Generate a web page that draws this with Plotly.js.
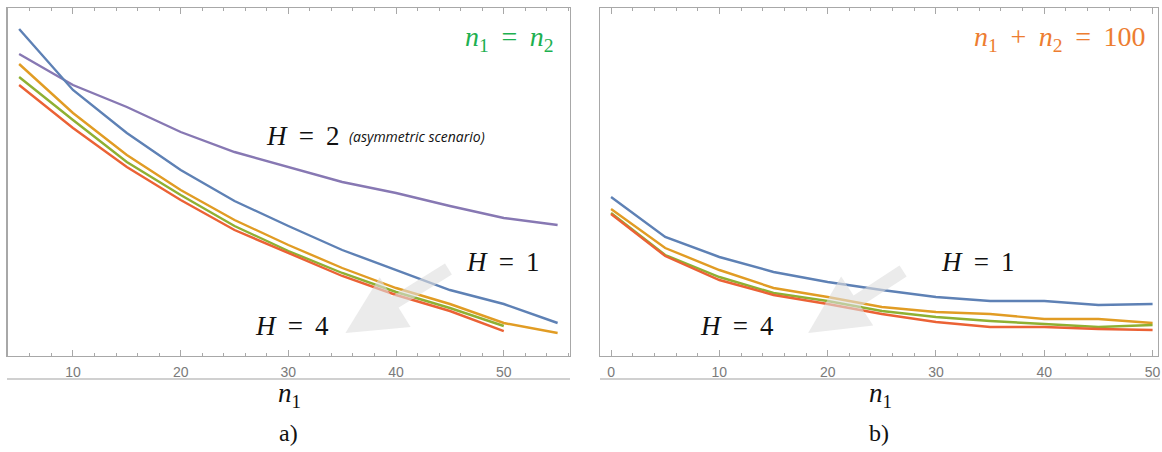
<!DOCTYPE html>
<html>
<head>
<meta charset="utf-8">
<script src="https://cdn.plot.ly/plotly-3.0.1.min.js"></script>
<style>html,body{margin:0;padding:0;background:#fff;}#chart{width:1162px;height:452px;}</style>
</head>
<body>
<div id="chart"></div>
<script>
// ---- data (y in arbitrary units, no y labels) ----
const nLeft = [5, 10, 15, 20, 25, 30, 35, 40, 45, 50, 55];
const nLeftShort = [5, 10, 15, 20, 25, 30, 35, 40, 45, 50];
const leftH1 = [327, 266, 223, 186, 155, 130, 106, 86, 66, 52, 33];
const leftH2 = [292, 243, 201, 166, 136, 111, 88, 68, 52, 33, 23];
const leftH3 = [279, 236, 194, 161, 130, 105, 83, 64, 48, 30];
const leftH4 = [271, 228, 189, 156, 126, 103, 80, 61, 45, 25];
const leftAsym = [302, 271, 249, 224, 204, 189, 174, 163, 150, 138, 131];

const nRight = [0, 5, 10, 15, 20, 25, 30, 35, 40, 45, 50];
const rightH1 = [159, 119, 99, 84, 74, 66, 59, 55, 55, 51, 52];
const rightH2 = [147, 108, 86, 68, 59, 49, 44, 42, 37, 37, 33];
const rightH3 = [143, 101, 79, 63, 55, 45, 39, 35, 32, 29, 31];
const rightH4 = [142, 100, 76, 61, 52, 42, 34, 29, 29, 27, 26];

const leftTicks = [10, 20, 30, 40, 50];
const rightTicks = [0, 10, 20, 30, 40, 50];

// ---- styles ----
const C = {blue:'#5E81B5', orange:'#E19C24', green:'#8FB032', red:'#EB6235', purple:'#8778B3'};
const LW = 2.4;
function tr(x, y, color, xa, ya) {
  return {x:x, y:y, type:'scatter', mode:'lines', line:{color:color, width:LW}, xaxis:xa, yaxis:ya, hoverinfo:'skip', showlegend:false};
}
const data = [
  tr(nLeft, leftAsym, C.purple, 'x', 'y'),
  tr(nLeft, leftH1, C.blue, 'x', 'y'),
  tr(nLeft, leftH2, C.orange, 'x', 'y'),
  tr(nLeftShort, leftH3, C.green, 'x', 'y'),
  tr(nLeftShort, leftH4, C.red, 'x', 'y'),
  tr(nRight, rightH1, C.blue, 'x2', 'y2'),
  tr(nRight, rightH2, C.orange, 'x2', 'y2'),
  tr(nRight, rightH3, C.green, 'x2', 'y2'),
  tr(nRight, rightH4, C.red, 'x2', 'y2')
];

const frame = '#a8a8a8';
function xax(domain, range, ticks) {
  return {domain:domain, range:range, tickmode:'array', tickvals:ticks, ticktext:ticks.map(String),
    ticks:'inside', ticklen:6, tickwidth:1, tickcolor:frame,
    showline:true, linecolor:frame, linewidth:1.3, mirror:'ticks',
    showgrid:false, zeroline:false, ticklabelstandoff:3,
    tickfont:{family:'Liberation Sans, Arial, sans-serif', size:14, color:'#7a7a7a'},
    minor:{tickmode:'linear', tick0:0, dtick:2, ticks:'inside', ticklen:3, tickcolor:frame, showgrid:false},
    fixedrange:true};
}
function yax(domain, anchor) {
  return {domain:domain, range:[0, 348], anchor:anchor, showticklabels:false, ticks:'',
    showline:true, linecolor:frame, linewidth:1.3, mirror:true, showgrid:false, zeroline:false, fixedrange:true};
}
const ydom = [0.2124, 0.9823];

const serif = 'Liberation Serif, DejaVu Serif, serif';
const bigH = {family:serif, size:27, color:'#111'};
const TS = '\u2009';
function txt(x, y, text, font, xanchor) {
  return {xref:'paper', yref:'paper', x:x/1162, y:1 - y/452, text:text, showarrow:false,
    font:font, xanchor:xanchor || 'center', yanchor:'middle'};
}
function arrow(xref, yref, tx, ty, ax, ay) {
  return {xref:xref, yref:yref, x:tx, y:ty, axref:xref, ayref:yref, ax:ax, ay:ay, text:'',
    showarrow:true, arrowhead:2, arrowsize:0.9, arrowwidth:13, arrowcolor:'rgba(222,222,222,0.6)', standoff:0, startstandoff:0};
}
const H = (v) => '<i>H</i>' + TS + ' = ' + TS + v;

const annotations = [
  arrow('x', 'y', 35.3, 23, 45.0, 88),
  arrow('x2', 'y2', 18.2, 23, 27.1, 86),
  txt(556, 38, '<i>n</i><sub>1</sub>' + TS + ' = ' + TS + '<i>n</i><sub>2</sub>', {family:serif, size:28, color:'#1DB050'}, 'right'),
  txt(1148, 38, '<i>n</i><sub>1</sub>' + TS + ' + ' + TS + '<i>n</i><sub>2</sub>' + TS + ' = ' + TS + '100', {family:serif, size:28, color:'#ED7D31'}, 'right'),
  txt(264, 136, H(2), bigH, 'left'),
  txt(347, 136, '<i>(asymmetric scenario)</i>', {family:'Open Sans, Liberation Sans, sans-serif', size:14, color:'#111'}, 'left'),
  txt(464, 262, H(1), bigH, 'left'),
  txt(253, 326, H(4), bigH, 'left'),
  txt(939, 262, H(1), bigH, 'left'),
  txt(698, 326, H(4), bigH, 'left'),
  txt(289, 395, '<i>n</i><sub>1</sub>', {family:serif, size:27, color:'#111'}, 'center'),
  txt(880, 395, '<i>n</i><sub>1</sub>', {family:serif, size:27, color:'#111'}, 'center'),
  txt(288, 433, 'a)', {family:serif, size:24, color:'#111'}, 'center'),
  txt(879, 433, 'b)', {family:serif, size:24, color:'#111'}, 'center')
];

const shapes = [
  {type:'line', xref:'paper', yref:'paper', x0:7/1162, x1:570/1162, y0:1-379/452, y1:1-379/452, line:{color:'#c0c0c0', width:1.3}},
  {type:'line', xref:'paper', yref:'paper', x0:600/1162, x1:1160/1162, y0:1-379/452, y1:1-379/452, line:{color:'#c0c0c0', width:1.3}}
];

const layout = {
  width:1162, height:452, margin:{l:0, r:0, t:0, b:0},
  paper_bgcolor:'#fff', plot_bgcolor:'#fff', showlegend:false,
  xaxis: xax([7.5/1162, 570/1162], [3.92, 56.15], leftTicks),
  yaxis: yax(ydom, 'x'),
  xaxis2: Object.assign(xax([600/1162, 1158/1162], [-1.02, 50.5], rightTicks), {anchor:'y2'}),
  yaxis2: yax(ydom, 'x2'),
  annotations: annotations,
  shapes: shapes
};
layout.xaxis.anchor = 'y';

Plotly.newPlot('chart', data, layout, {staticPlot:true, displayModeBar:false});
</script>
</body>
</html>
